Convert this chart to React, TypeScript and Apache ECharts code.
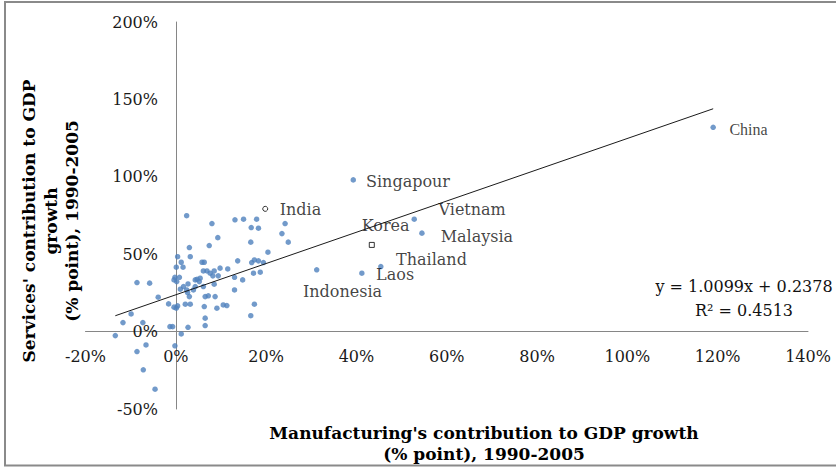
import React, { useEffect, useRef } from "react";
import * as echarts from "echarts";

// Contributions to GDP growth, 1990-2005, in percentage points.
// Unlabelled economies: manufacturing (x) and services (y).
const mfgContribution = [
  2.4, 8.0, 13.1, 15.0, 17.9, 24.2, 16.7, 18.3, 23.5, 9.3,
  24.9, 16.6, 7.4, 3.0, 20.4, 0.4, 3.2, 13.7, 1.2, 5.8,
  6.3, 16.8, 17.4, 18.3, 19.4, 0.1, 1.6, 17.2, 18.7, 11.5,
  9.8, 6.1, 6.9, 8.5, 7.6, 9.4, 8.2, 13.0, -0.2, 0.8,
  5.4, 4.7, 14.8, 0.2, -0.4, 2.7, 5.2, 8.5, 1.7, 1.0,
  6.1, 2.6, 3.0, 13.0, 6.5, 7.2, 8.7, -3.9, 2.1, 3.2,
  10.5, 11.3, 6.3, 9.1, -1.6, 0.4, -0.4, 0.1, 17.4, -8.6,
  -5.8, -9.9, 16.6, 6.5, 6.5, -11.7, -7.3, -1.3, -0.7, 2.7,
  -13.4, 1.2, -6.6, -0.2, -8.6, -7.2, -4.6, 4.3, 2.4, 3.9,
  4.3,
];
const svcContribution = [
  74.9, 69.8, 72.2, 72.6, 72.6, 69.8, 67.2, 66.8, 63.3, 60.7,
  57.8, 57.8, 55.6, 54.3, 51.3, 48.4, 48.4, 45.7, 44.8, 44.8,
  44.8, 44.6, 46.3, 45.7, 44.6, 41.6, 41.6, 37.7, 38.4, 40.5,
  41.0, 39.2, 39.2, 39.2, 37.7, 36.0, 36.0, 35.1, 35.1, 35.1,
  34.5, 33.8, 33.4, 32.3, 33.4, 30.8, 32.3, 30.6, 29.1, 27.4,
  29.1, 25.2, 22.6, 26.9, 22.6, 23.1, 22.6, 22.2, 17.7, 17.7,
  17.2, 16.8, 16.2, 15.1, 17.9, 16.6, 15.8, 15.1, 17.7, 31.7,
  31.3, 11.4, 10.3, 8.7, 3.9, 5.8, 5.8, 3.2, 3.2, 2.8,
  -2.6, -1.5, -8.6, -9.2, -12.9, -24.7, -37.2, 33.4, 26.9, 26.9,
  29.1,
];

// Named economies
const countries = ["Singapour", "India", "Korea", "Laos", "Indonesia", "Thailand", "Vietnam", "Malaysia", "China"];
const countryMfg = [39.3, 19.8, 43.4, 41.2, 31.2, 45.4, 52.8, 54.5, 119.0];
const countrySvc = [98.0, 79.3, 56.0, 37.7, 39.9, 42.0, 72.6, 63.6, 132.0];

// Axis ticks
const xTicks = [-20, 0, 20, 40, 60, 80, 100, 120, 140];
const yTicks = [-50, 0, 50, 100, 150, 200];

// Linear fit of services on manufacturing (shares)
const trendSlope = 1.0099;
const trendIntercept = 0.2378;
const trendR2 = 0.4513;

const SERIF = "'DejaVu Serif', serif";
const DOT = "#4f81bd";

// Label placement for the named economies
const labelOffsets: Record<string, [number, number]> = {
  Singapour: [10, 2],
  India: [11.5, 1],
  Korea: [-13, -19],
  Laos: [11.5, 1],
  Indonesia: [-16.5, 21.5],
  Thailand: [12.5, -7.5],
  Vietnam: [21.5, -10],
  Malaysia: [16, 3.5],
  China: [13.5, 2],
};
const hollowSymbols: Record<string, string> = { India: "circle", Korea: "rect" };

// Grid box; tick labels sit beside the axes that cross at zero
const GRID = { left: 85.5, right: 28, top: 22, bottom: 58 };
const X_LABEL_MARGIN = -61;
const Y_LABEL_MARGIN = -72.5;

export default function App() {
  const ref = useRef<HTMLDivElement>(null);

  useEffect(() => {
    if (!ref.current) return;
    const chart = echarts.init(ref.current, null, { renderer: "svg" });

    const allX = mfgContribution.concat(countryMfg);
    const xLo = Math.min(...allX);
    const xHi = Math.max(...allX);
    const fit = (x: number) => trendSlope * x + trendIntercept * 100;

    const plain = mfgContribution.map((x, i) => [x, svcContribution[i]]);
    const named = countries.map((name, i) => {
      const item: any = {
        name,
        value: [countryMfg[i], countrySvc[i]],
        label: { offset: labelOffsets[name] },
      };
      if (hollowSymbols[name]) {
        item.symbol = hollowSymbols[name];
        item.symbolSize = 5;
        item.itemStyle = { color: "#ffffff", borderColor: "#000000", borderWidth: 1 };
      }
      if (name === "China") {
        item.label.fontFamily = "'Liberation Serif', serif";
      }
      return item;
    });

    const pct = (v: number) => `${v}%`;
    const centred = { textAlign: "center", textVerticalAlign: "middle", align: "center", verticalAlign: "middle" };

    chart.setOption({
      animation: false,
      grid: GRID,
      xAxis: {
        type: "value",
        min: xTicks[0],
        max: xTicks[xTicks.length - 1],
        interval: xTicks[1] - xTicks[0],
        axisLine: { onZero: true, lineStyle: { color: "#868686", width: 1 } },
        axisTick: { show: false },
        splitLine: { show: false },
        axisLabel: { formatter: pct, fontFamily: SERIF, fontSize: 16, color: "#1a1a1a", margin: X_LABEL_MARGIN },
      },
      yAxis: {
        type: "value",
        min: yTicks[0],
        max: yTicks[yTicks.length - 1],
        interval: yTicks[1] - yTicks[0],
        axisLine: { onZero: true, lineStyle: { color: "#868686", width: 1 } },
        axisTick: { show: false },
        splitLine: { show: false },
        axisLabel: { formatter: pct, fontFamily: SERIF, fontSize: 16, color: "#1a1a1a", margin: Y_LABEL_MARGIN },
      },
      series: [
        {
          type: "line",
          data: [
            [xLo, fit(xLo)],
            [xHi, fit(xHi)],
          ],
          symbol: "none",
          lineStyle: { color: "#1a1a1a", width: 1 },
          silent: true,
          z: 3,
        },
        {
          type: "scatter",
          data: plain,
          symbolSize: 5.5,
          itemStyle: { color: DOT },
          z: 2,
        },
        {
          type: "scatter",
          data: named,
          symbolSize: 5.5,
          itemStyle: { color: DOT },
          z: 4,
          label: {
            show: true,
            formatter: "{b}",
            position: "right",
            distance: 0,
            fontFamily: SERIF,
            fontSize: 16,
            color: "#111111",
          },
        },
      ],
      graphic: [
        {
          type: "rect",
          shape: { x: 5, y: 2, width: 860, height: 463.5 },
          style: { fill: "none", stroke: "#8a8a8a", lineWidth: 2 },
          silent: true,
        },
        {
          type: "text",
          x: 744,
          y: 286,
          style: {
            text: `y = ${trendSlope.toFixed(4)}x + ${trendIntercept.toFixed(4)}`,
            font: `16px ${SERIF}`,
            fill: "#111111",
            ...centred,
          },
        },
        {
          type: "text",
          x: 744,
          y: 310,
          style: {
            text: `R² = ${trendR2.toFixed(4)}`,
            font: `16px ${SERIF}`,
            fill: "#111111",
            ...centred,
          },
        },
        ...["Manufacturing's contribution to GDP growth", "(% point), 1990-2005"].map((t, i) => ({
          type: "text",
          x: 484,
          y: 433 + i * 21,
          style: { text: t, font: `bold 17px ${SERIF}`, fill: "#000000", ...centred },
        })),
        ...["Services' contribution to GDP", "growth", "(% point), 1990-2005"].map((t, i) => ({
          type: "text",
          x: 29 + i * 21.5,
          y: 221,
          rotation: Math.PI / 2,
          style: { text: t, font: `bold 17px ${SERIF}`, fill: "#000000", ...centred },
        })),
      ],
    });

    return () => chart.dispose();
  }, []);

  return (
    <div
      ref={ref}
      style={{ position: "fixed", left: 0, top: 0, width: 836, height: 467, background: "#ffffff" }}
    />
  );
}
